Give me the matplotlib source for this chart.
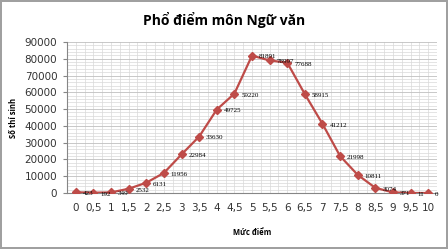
import numpy as np
import matplotlib.pyplot as plt
from matplotlib.ticker import MultipleLocator, FixedLocator

muc_diem = ['0', '0,5', '1', '1,5', '2', '2,5', '3', '3,5', '4', '4,5', '5',
            '5,5', '6', '6,5', '7', '7,5', '8', '8,5', '9', '9,5', '10']
so_thi_sinh = [423, 192, 349, 2532, 6131, 11956, 22984, 33630, 49725, 59220, 81891,
               78997, 77688, 58915, 41212, 21998, 10811, 3074, 371, 11, 0]

red = '#BE4B48'

fig = plt.figure(figsize=(4.48, 2.49), dpi=100)
fig.patch.set_edgecolor('#A0A0A0')
fig.patch.set_linewidth(1.5)
ax = fig.add_axes([67/448, 1 - 193/249, 370/448, 151/249])

x = np.arange(len(muc_diem))
ax.plot(x, so_thi_sinh, color=red, lw=1.6, marker='D', ms=4, zorder=3)
for xi, v in zip(x, so_thi_sinh):
    ax.annotate(str(v), (xi, v), xytext=(5, -1), textcoords='offset points',
                fontsize=5, family='Liberation Serif', va='center', ha='left')

ax.set_xlim(-0.5, len(muc_diem) - 0.5)
ax.set_ylim(0, 90000)
ax.yaxis.set_major_locator(MultipleLocator(10000))
ax.yaxis.set_minor_locator(MultipleLocator(2000))
ax.set_xticks(x)
ax.set_xticklabels(muc_diem)
ax.xaxis.set_minor_locator(FixedLocator(np.arange(-0.5, len(muc_diem), 1)))
ax.grid(True, which='major', axis='y', color='#BFBFBF', lw=0.6)
ax.grid(True, which='minor', axis='both', color='#D9D9D9', lw=0.5)
ax.grid(True, which='major', axis='x', color='#D9D9D9', lw=0.5)
ax.set_axisbelow(True)
for s in ['top', 'right']:
    ax.spines[s].set_visible(False)
ax.spines['left'].set_color('#868686')
ax.spines['bottom'].set_color('#868686')
ax.tick_params(axis='both', which='both', length=0, labelsize=7.5, colors='#333333')
ax.tick_params(axis='y', which='major', length=3, pad=4, color='#868686')
ax.tick_params(axis='x', which='major', pad=7)

fig.text(0.5, 1 - 20/249, 'Phổ điểm môn Ngữ văn', ha='center', va='center',
         fontsize=10, fontweight='bold', family='Open Sans')
fig.text(252/448, 1 - 232/249, 'Mức điểm', ha='center', va='center',
         fontsize=5.5, fontweight='bold', family='Open Sans')
fig.text(13/448, 1 - 118/249, 'Số thí sinh', ha='center', va='center', rotation=90,
         fontsize=5.5, fontweight='bold', family='Open Sans')

fig.savefig('out.png', dpi=100)
